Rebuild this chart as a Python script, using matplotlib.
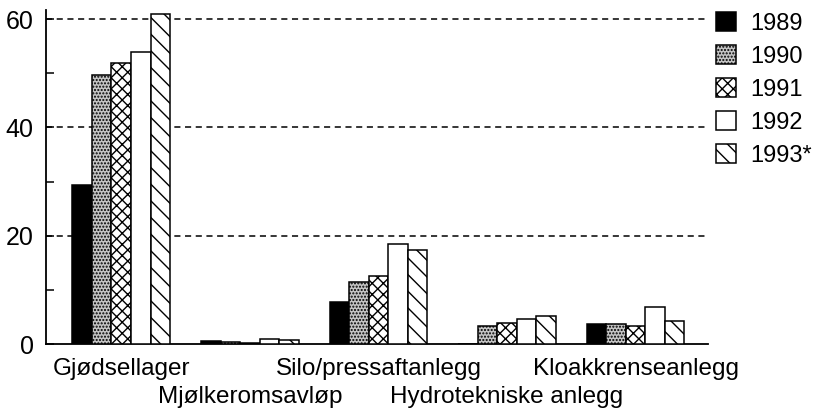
import matplotlib
matplotlib.use("Agg")
import matplotlib.pyplot as plt
import numpy as np
from matplotlib.patches import Patch
from matplotlib.transforms import blended_transform_factory

categories = ["Gjødsellager", "Mjølkeromsavløp", "Silo/pressaftanlegg",
              "Hydrotekniske anlegg", "Kloakkrenseanlegg"]
years = ["1989", "1990", "1991", "1992", "1993*"]
v1989 = [29.4, 0.5, 7.7, 0.0, 3.7]
v1990 = [49.7, 0.4, 11.4, 3.4, 3.7]
v1991 = [52.0, 0.1, 12.6, 3.9, 3.3]
v1992 = [54.0, 1.0, 18.4, 4.6, 6.8]
v1993 = [61.0, 0.7, 17.4, 5.2, 4.3]
series = [v1989, v1990, v1991, v1992, v1993]
yticks = [0, 20, 40, 60]

plt.rcParams['font.family'] = ['Liberation Sans', 'DejaVu Sans']
plt.rcParams['hatch.linewidth'] = 1.0

styles = [
    dict(facecolor='black', hatch=None),
    dict(facecolor='#c4c4c4', hatch='.....'),
    dict(facecolor='white', hatch='xxx'),
    dict(facecolor='white', hatch=None),
    dict(facecolor='white', hatch='\\\\'),
]

W, H = 813, 408
fig = plt.figure(figsize=(W / 100, H / 100), dpi=100)
ax = fig.add_axes([46 / W, 64 / H, (708 - 46) / W, (344 - 10) / H])

x = np.arange(len(categories))
bw = 0.152
for i, (vals, st) in enumerate(zip(series, styles)):
    ax.bar(x + (i - 2) * bw, vals, width=bw, facecolor=st['facecolor'],
           hatch=st['hatch'], edgecolor='black', linewidth=1.1, zorder=3,
           label=years[i])

ax.set_xlim(-0.585, 4.563)
ax.set_ylim(0, 61.7)
ax.set_yticks(yticks)
ax.set_yticklabels([str(t) for t in yticks], fontsize=18)
ax.set_yticks([10, 30, 50], minor=True)
ax.tick_params(axis='y', which='both', direction='in', length=6, width=1.1, pad=9)
ax.set_xticks([])
for s in ['top', 'right']:
    ax.spines[s].set_visible(False)
for s in ['left', 'bottom']:
    ax.spines[s].set_linewidth(1.3)

for t in [20, 40, 60]:
    ax.axhline(t, color='black', linestyle=(0, (4, 3)), linewidth=1.1, zorder=1)

trans = blended_transform_factory(ax.transData, ax.transAxes)
row_y = [-0.093, -0.177]
for i, c in enumerate(categories):
    ax.text(x[i], row_y[i % 2], c, transform=trans, ha='center', va='baseline',
            fontsize=17.5)

handles = [Patch(facecolor=st['facecolor'], hatch=st['hatch'], edgecolor='black',
                 linewidth=1.1, label=years[i]) for i, st in enumerate(styles)]
fig.legend(handles=handles, loc='upper left', bbox_to_anchor=(716 / W, 1 - 12 / H),
           frameon=False, fontsize=17, handlelength=0.85, handleheight=0.85,
           handletextpad=0.6, labelspacing=0.44, borderpad=0, borderaxespad=0)

fig.savefig("out.png", dpi=100)
